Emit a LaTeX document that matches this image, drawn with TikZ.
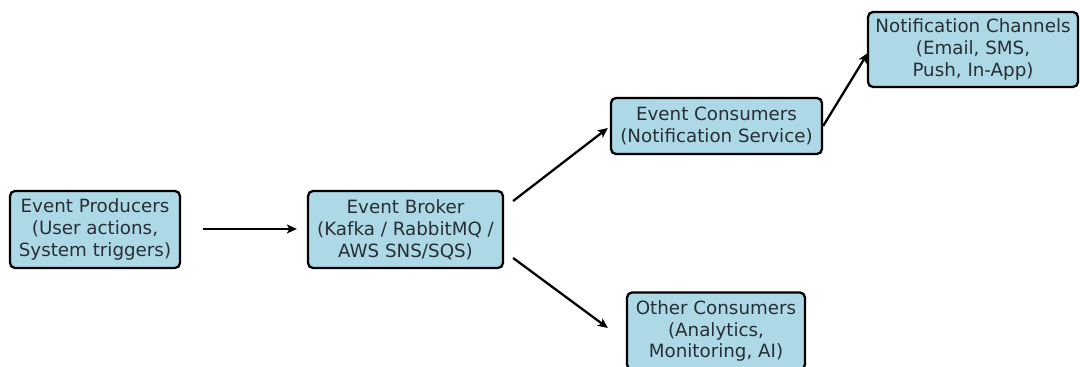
\documentclass[tikz,border=0pt]{standalone}
\usepackage{fontspec}
\setmainfont{DejaVu Sans}
\usetikzlibrary{arrows.meta}

\definecolor{boxblue}{RGB}{173,216,230}
\definecolor{boxtext}{RGB}{40,47,52}

\tikzset{
  stage/.style={draw=black, line width=1.3pt, rounded corners=0.1cm, fill=boxblue,
    text=boxtext, align=center, inner sep=0pt,
    font=\fontsize{10.4}{12.4}\selectfont},
  flow/.style={draw=black, line width=1.3pt, -{Stealth[length=0.2cm, width=0.18cm, inset=0.05cm]}},
}

\begin{document}
\begin{tikzpicture}[x=0.02cm, y=-0.02cm]
  \useasboundingbox (0,0) rectangle (1080,367);
  \clip (0,0) rectangle (1080,367);

  \node[stage, minimum width=3.4cm, minimum height=1.54cm] (prod) at (95,229.5)
    {Event Producers\\(User actions,\\System triggers)};
  \node[stage, minimum width=3.9cm, minimum height=1.54cm] (broker) at (405.5,229.5)
    {Event Broker\\(Kafka / RabbitMQ /\\AWS SNS/SQS)};
  \node[stage, minimum width=4.22cm, minimum height=1.12cm] (cons) at (716.5,126)
    {Event Consumers\\(Notification Service)};
  \node[stage, minimum width=4.2cm, minimum height=1.5cm] (chan) at (973,49.5)
    {Notification Channels\\(Email, SMS,\\Push, In-App)};
  \node[stage, minimum width=3.56cm, minimum height=1.54cm] (other) at (716,331)
    {Other Consumers\\(Analytics,\\Monitoring, AI)};

  \draw[flow, shorten <=0.44cm, shorten >=0.2cm] ([yshift=0.3]prod.east) -- ([yshift=0.3]broker.west); %
  \draw[flow] ([shift={(9,-28.5)}]broker.east) -- ([shift={(-2,2)}]cons.west); %
  \draw[flow] ([shift={(9,28.5)}]broker.east) -- ([shift={(-18,-3)}]other.west); %
  \draw[flow] (cons.east) -- ([shift={(1,3.5)}]chan.west); %
\end{tikzpicture}
\end{document}
